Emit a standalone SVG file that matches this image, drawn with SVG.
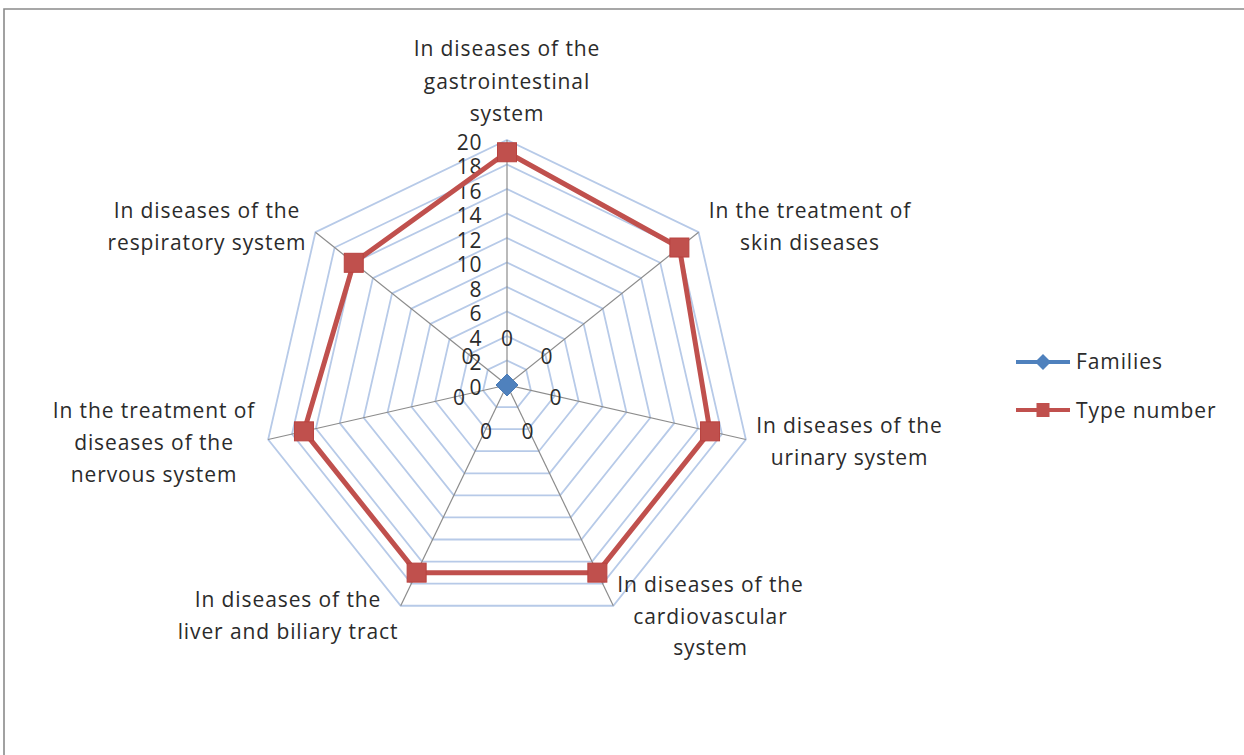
<svg xmlns="http://www.w3.org/2000/svg" width="1244" height="755" viewBox="0 0 1244 755">
<style>
text{font-family:"Open Sans","Liberation Sans",sans-serif;font-size:21px;fill:#2b2b2b;letter-spacing:0.9px}
.c{text-anchor:middle}
.e{text-anchor:end;letter-spacing:0.6px}
.grid{fill:none;stroke:#b7cae8;stroke-width:1.8}
.spoke{stroke:#8c8c8c;stroke-width:1.2}
.red{fill:none;stroke:#c0504d;stroke-width:5;stroke-linejoin:round}
.sq{fill:#c0504d;stroke:#b8423f;stroke-width:1}
</style>
<rect width="1244" height="755" fill="#ffffff"/>
<g id="frame" fill="none" stroke="#8a8a8a" stroke-width="1.6">
<polyline points="4,755 4,9 1244,9"/>
</g>
<g id="grid">
<polygon class="grid" points="507,360.5 526.16,369.72 530.89,390.45 517.63,407.07 496.37,407.07 483.11,390.45 487.84,369.72"/>
<polygon class="grid" points="507,336 545.31,354.45 554.77,395.9 528.26,429.15 485.74,429.15 459.23,395.9 468.69,354.45"/>
<polygon class="grid" points="507,311.5 564.47,339.17 578.66,401.36 538.89,451.22 475.11,451.22 435.34,401.36 449.53,339.17"/>
<polygon class="grid" points="507,287 583.62,323.9 602.54,406.81 549.52,473.3 464.48,473.3 411.46,406.81 430.38,323.9"/>
<polygon class="grid" points="507,262.5 602.77,308.62 626.43,412.26 560.15,495.37 453.85,495.37 387.57,412.26 411.23,308.62"/>
<polygon class="grid" points="507,238 621.93,293.35 650.31,417.71 570.78,517.44 443.22,517.44 363.69,417.71 392.07,293.35"/>
<polygon class="grid" points="507,213.5 641.08,278.07 674.2,423.16 581.41,539.52 432.59,539.52 339.8,423.16 372.92,278.07"/>
<polygon class="grid" points="507,189 660.24,262.8 698.09,428.61 592.04,561.59 421.96,561.59 315.91,428.61 353.76,262.8"/>
<polygon class="grid" points="507,164.5 679.39,247.52 721.97,434.06 602.67,583.66 411.33,583.66 292.03,434.06 334.61,247.52"/>
<polygon class="grid" points="507,140 698.55,232.24 745.86,439.52 613.3,605.74 400.7,605.74 268.14,439.52 315.45,232.24"/>
</g>
<g id="spokes">
<line class="spoke" x1="507" y1="385" x2="507" y2="140"/>
<line class="spoke" x1="507" y1="385" x2="698.55" y2="232.24"/>
<line class="spoke" x1="507" y1="385" x2="745.86" y2="439.52"/>
<line class="spoke" x1="507" y1="385" x2="613.3" y2="605.74"/>
<line class="spoke" x1="507" y1="385" x2="400.7" y2="605.74"/>
<line class="spoke" x1="507" y1="385" x2="268.14" y2="439.52"/>
<line class="spoke" x1="507" y1="385" x2="315.45" y2="232.24"/>
</g>
<g id="ticks">
<text class="e" x="482" y="394.5">0</text>
<text class="e" x="482" y="370">2</text>
<text class="e" x="482" y="345.5">4</text>
<text class="e" x="482" y="321">6</text>
<text class="e" x="482" y="296.5">8</text>
<text class="e" x="482" y="272">10</text>
<text class="e" x="482" y="247.5">12</text>
<text class="e" x="482" y="223">14</text>
<text class="e" x="482" y="198.5">16</text>
<text class="e" x="482" y="174">18</text>
<text class="e" x="482" y="149.5">20</text>
</g>
<g id="series-type-number">
<polygon class="red" points="507,152.25 679.39,247.52 710.03,431.34 597.36,572.63 416.64,572.63 303.97,431.34 353.76,262.8"/>
<rect class="sq" x="497.5" y="142.75" width="19" height="19"/>
<rect class="sq" x="669.89" y="238.02" width="19" height="19"/>
<rect class="sq" x="700.53" y="421.84" width="19" height="19"/>
<rect class="sq" x="587.86" y="563.13" width="19" height="19"/>
<rect class="sq" x="407.14" y="563.13" width="19" height="19"/>
<rect class="sq" x="294.47" y="421.84" width="19" height="19"/>
<rect class="sq" x="344.26" y="253.3" width="19" height="19"/>
</g>
<g id="series-families">
<polygon points="507,374 518,385 507,396 496,385" fill="#4f81bd" stroke="#4a7ab5" stroke-width="1"/>
<text class="c" x="507.5" y="346">0</text>
<text class="c" x="547" y="363.5">0</text>
<text class="c" x="556" y="405">0</text>
<text class="c" x="528" y="438.5">0</text>
<text class="c" x="486.5" y="438.5">0</text>
<text class="c" x="459.5" y="405">0</text>
<text class="c" x="468" y="363.5">0</text>
</g>
<g id="cat-gastro">
<text class="c" x="507" y="56">In diseases of the</text>
<text class="c" x="507" y="88.5">gastrointestinal</text>
<text class="c" x="507" y="121">system</text>
</g>
<g id="cat-skin">
<text class="c" x="810" y="218">In the treatment of</text>
<text class="c" x="810" y="250">skin diseases</text>
</g>
<g id="cat-urinary">
<text class="c" x="849.5" y="433">In diseases of the</text>
<text class="c" x="849.5" y="465">urinary system</text>
</g>
<g id="cat-cardio">
<text class="c" x="710.5" y="592">In diseases of the</text>
<text class="c" x="710.5" y="623.5">cardiovascular</text>
<text class="c" x="710.5" y="655">system</text>
</g>
<g id="cat-liver">
<text class="c" x="288" y="607">In diseases of the</text>
<text class="c" x="288" y="638.5">liver and biliary tract</text>
</g>
<g id="cat-nervous">
<text class="c" x="154" y="418">In the treatment of</text>
<text class="c" x="154" y="450">diseases of the</text>
<text class="c" x="154" y="481.5">nervous system</text>
</g>
<g id="cat-respiratory">
<text class="c" x="207" y="218">In diseases of the</text>
<text class="c" x="207" y="250">respiratory system</text>
</g>
<g id="legend">
<line x1="1016" y1="362" x2="1070" y2="362" stroke="#4f81bd" stroke-width="4"/>
<polygon points="1043,354 1051,362 1043,370 1035,362" fill="#4f81bd"/>
<text x="1076" y="368.5">Families</text>
<line x1="1016" y1="410" x2="1070" y2="410" stroke="#c0504d" stroke-width="4"/>
<rect x="1036.5" y="403" width="13" height="14" fill="#c0504d"/>
<text x="1076" y="417.5">Type number</text>
</g>
</svg>
